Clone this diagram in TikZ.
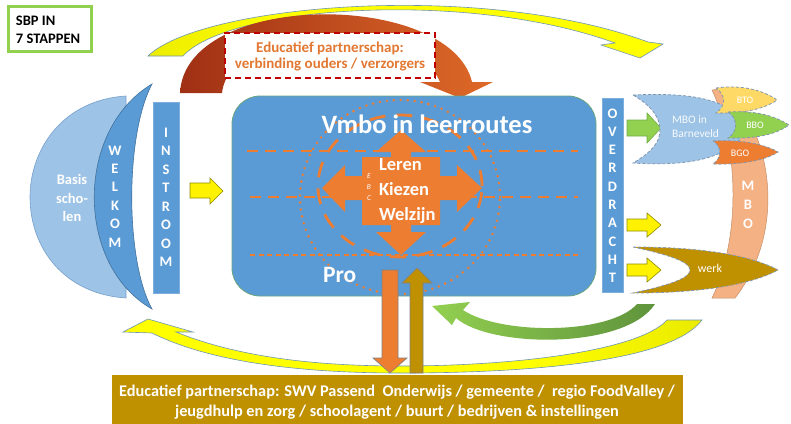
\documentclass[tikz,border=0pt]{standalone}
\usepackage{fontspec}
\setmainfont{Carlito}
\definecolor{obl}{RGB}{91,155,213}
\definecolor{outl}{RGB}{65,113,156}
\definecolor{lbl}{RGB}{157,195,230}
\definecolor{lblo}{RGB}{120,160,205}
\definecolor{oor}{RGB}{237,125,49}
\definecolor{ogold}{RGB}{191,144,0}
\definecolor{ogreen}{RGB}{112,173,71}
\definecolor{lgreen}{RGB}{146,208,80}
\definecolor{tgreen}{RGB}{146,208,80}
\definecolor{salmon}{RGB}{244,177,131}
\definecolor{lyel}{RGB}{255,217,102}
\definecolor{brownr}{RGB}{160,48,20}
\definecolor{brownl}{RGB}{222,105,40}
\definecolor{olv}{RGB}{200,200,0}
\definecolor{dred}{RGB}{192,0,0}
\definecolor{edgeb}{RGB}{110,150,180}
\definecolor{dgray}{RGB}{132,151,176}
\definecolor{etxtc}{RGB}{226,120,50}
\pgfdeclarehorizontalshading{oliveyellow}{100bp}{color(0bp)=(olv); color(38bp)=(yellow); color(100bp)=(yellow)}
\pgfdeclarehorizontalshading{yellowolive}{100bp}{color(0bp)=(yellow); color(60bp)=(yellow); color(100bp)=(olv)}
\tikzset{
  ttl/.style={font=\bfseries\fontsize{14.5}{17}\selectfont, text=black},
  vl/.style={font=\bfseries\fontsize{14.5}{17}\selectfont, text=white, anchor=base},
  etxt/.style={font=\bfseries\fontsize{15}{18}\selectfont, text=etxtc, anchor=base},
  wtxt/.style={font=\bfseries, text=white},
  ybox/.style={fill=yellow, draw=olv!70!black, line width=0.6pt},
  gbox/.style={fill=lgreen, draw=ogreen, line width=0.6pt},
  mshape/.style={draw=dgray, line width=0.8pt, dash pattern=on 3pt off 2pt},
  olines/.style={draw=oor, line width=2.5pt},
}
\begin{document}
\begin{tikzpicture}[x=1pt,y=-1pt, every node/.style={inner sep=0pt, outer sep=0pt}]
\useasboundingbox (0,0) rectangle (791,423);
\fill[white] (0,0) rectangle (791,423);

% title
\draw[tgreen, line width=3pt] (8,6) rectangle (91,51);
\node[ttl, anchor=base west] (t1) at (16,25) {SBP IN};
\node[ttl, anchor=base west] (t2) at (16,43) {7 STAPPEN};

% top yellow arrow
\path[draw=edgeb, line width=0.6pt, shade, shading=oliveyellow]
 (148,56) .. controls (200,5) and (480,-20) .. (648,42) -- (663,44) -- (640,58) -- (601,45) -- (615,43)
 .. controls (470,-10) and (230,5) .. (183,56) -- cycle;

% brown arc arrow
\path[left color=brownr, right color=brownl]
 (180,93) .. controls (185,-10) and (450,-10) .. (472,82) -- (493,82) -- (460,98) -- (420,82) -- (440,82)
 .. controls (415,20) and (230,20) .. (222,93) -- cycle;

% dashed box
\node[draw=dred, fill=white, line width=1.8pt, dash pattern=on 6pt off 4pt,
      minimum width=210pt, minimum height=45pt] (ebox) at (330,55.5) {};
\node[etxt] (e1) at (330,52) {Educatief partnerschap:};
\node[etxt] (e2) at (330,68) {verbinding ouders / verzorgers};

% Basisscholen
\path[fill=lbl, draw=lblo, line width=0.6pt]
 (126,96) .. controls (62,100) and (30,150) .. (30,197) .. controls (30,248) and (64,294) .. (126,298) -- cycle;
\node[wtxt, font=\bfseries\fontsize{14.5}{17}\selectfont, anchor=base] (b1) at (72,184) {Basis};
\node[wtxt, font=\bfseries\fontsize{14.5}{17}\selectfont, anchor=base] (b2) at (72,203) {scho-};
\node[wtxt, font=\bfseries\fontsize{14.5}{17}\selectfont, anchor=base] (b3) at (72,221) {len};

% WELKOM crescent
\path[fill=obl, draw=outl, line width=0.6pt]
 (152,84) .. controls (75,130) and (75,265) .. (152,309) .. controls (125,260) and (125,135) .. (152,84) -- cycle;
\foreach \l [count=\i] in {W,E,L,K,O,M}
  \node[vl] (wk\i) at (115,{155+(\i-1)*18.4}) {\l};

% INSTROOM
\path[fill=obl, draw=obl!80!white, line width=0.6pt] (153,102) rectangle (179,293);
\foreach \l [count=\i] in {I,N,S,T,R,O,O,M}
  \node[vl] (in\i) at (166,{137+(\i-1)*18.57}) {\l};
\path[ybox] (190,183) -- (210,183) -- (210,178) -- (223,191) -- (210,204) -- (210,198) -- (190,198) -- cycle;

% main rectangle
\path[fill=obl, draw=ogreen!60!obl, line width=0.8pt, rounded corners=28pt] (232,96) rectangle (596,296);
\draw[olines, dash pattern=on 11pt off 7pt] (247,151) -- (578,151);
\draw[olines, dash pattern=on 11pt off 7pt] (250,197) -- (578,197);
\draw[olines, line width=2.2pt, dash pattern=on 5pt off 3.5pt] (250,255) -- (580,255);
\draw[olines, line width=2.8pt, line cap=round, dash pattern=on 0pt off 7pt] (400,197) ellipse [x radius=100pt, y radius=97pt];
\draw[olines, line width=2.8pt, dash pattern=on 16pt off 11pt] (400,186) ellipse [x radius=82pt, y radius=71pt];

% quad arrow
\path[fill=oor]
 (401,130) -- (426,152) -- (411,152) -- (411,157) -- (440,157) -- (440,176) -- (457,176) -- (457,165)
 -- (482,188) -- (457,212) -- (457,200) -- (440,200) -- (440,225) -- (411,225) -- (411,232) -- (426,232)
 -- (401,255) -- (376,232) -- (391,232) -- (391,225) -- (362,225) -- (362,200) -- (345,200) -- (345,212)
 -- (322,188) -- (345,165) -- (345,176) -- (362,176) -- (362,157) -- (391,157) -- (391,152) -- (376,152) -- cycle;

\node[wtxt, font=\bfseries\fontsize{26.5}{30}\selectfont, anchor=base] (vmbo) at (427,133) {Vmbo in leerroutes};
\node[wtxt, font=\bfseries\fontsize{18.5}{22}\selectfont, anchor=base west] (le) at (379,170) {Leren};
\node[wtxt, font=\bfseries\fontsize{18.5}{22}\selectfont, anchor=base west] (ki) at (379,195) {Kiezen};
\node[wtxt, font=\bfseries\fontsize{18.5}{22}\selectfont, anchor=base west] (we) at (379,220) {Welzijn};
\node[text=white, font=\itshape\fontsize{7.5}{9}\selectfont, anchor=base] (eE) at (369,178) {E};
\node[text=white, font=\itshape\fontsize{7.5}{9}\selectfont, anchor=base] (eB) at (369,189) {B};
\node[text=white, font=\itshape\fontsize{7.5}{9}\selectfont, anchor=base] (eC) at (369,200) {C};
\node[wtxt, font=\bfseries\fontsize{23.5}{28}\selectfont, anchor=base west] (pro) at (323,282) {Pro};

% bottom yellow arrow
\path[draw=edgeb, line width=0.6pt, shade, shading=yellowolive]
 (123,332) -- (148,319) -- (193,332) -- (176,332)
 .. controls (240,358) and (320,366) .. (400,366) .. controls (520,366) and (640,350) .. (667,320)
 -- (702,320) .. controls (672,360) and (540,373) .. (400,373) .. controls (300,373) and (210,362) .. (152,333) -- cycle;

% green curved arrow
\path[left color=lgreen, right color=ogreen!85!black]
 (432,306) -- (470,302) -- (463,310) .. controls (500,335) and (610,335) .. (637,304) -- (655,304)
 .. controls (625,350) and (490,348) .. (456,318) -- (452,325) -- cycle;

% vertical arrows
\path[fill=oor, draw=gray, line width=0.6pt]
 (382,270) -- (398,270) -- (398,358) -- (407,358) -- (390,373) -- (373,358) -- (382,358) -- cycle;
\path[fill=ogold, draw=gray, line width=0.6pt]
 (410,373) -- (410,283) -- (402,283) -- (417,268) -- (432,283) -- (423,283) -- (423,373) -- cycle;

% bottom box
\path[fill=ogold] (112,375) rectangle (683,424);
\node[wtxt, font=\bfseries\fontsize{16.3}{19}\selectfont, anchor=base] (p1) at (397,396)
  {Educatief partnerschap: SWV Passend\ \ Onderwijs / gemeente /\ \ regio FoodValley /};
\node[wtxt, font=\bfseries\fontsize{16.3}{19}\selectfont, anchor=base] (p2) at (397,416)
  {jeugdhulp en zorg / schoolagent / buurt / bedrijven \& instellingen};

% OVERDRACHT
\path[fill=obl, draw=obl!80!white, line width=0.6pt] (602,98) rectangle (623,292);
\foreach \l [count=\i] in {O,V,E,R,D,R,A,C,H,T}
  \node[vl] (ov\i) at (612.5,{118+(\i-1)*18.33}) {\l};
\path[gbox] (627,120) -- (647,120) -- (647,113) -- (661,128) -- (647,143) -- (647,136) -- (627,136) -- cycle;
\path[ybox] (627,219) -- (647,219) -- (647,213) -- (661,225) -- (647,237) -- (647,231) -- (627,231) -- cycle;
\path[ybox] (627,264) -- (647,264) -- (647,258) -- (661,270) -- (647,282) -- (647,276) -- (627,276) -- cycle;

% MBO band
\path[fill=salmon, draw=salmon!80!black, line width=0.5pt]
 (728,88) .. controls (780,150) and (780,240) .. (735,298) -- (712,298) .. controls (740,240) and (740,150) .. (712,90) -- cycle;
\foreach \l [count=\i] in {M,B,O}
  \node[vl] (mb\i) at (748,{190+(\i-1)*19}) {\l};

% MBO in Barneveld
\path[mshape, fill=lbl]
 (633,95) .. controls (680,93) and (730,95) .. (748,128) .. controls (730,162) and (680,166) .. (633,163)
 .. controls (652,152) and (660,142) .. (660,130) .. controls (660,118) and (652,106) .. (633,95) -- cycle;
\node[text=white!92!lbl, font=\fontsize{11.5}{13}\selectfont, anchor=base west] (mbo1) at (672,123) {MBO in};
\node[text=white!92!lbl, font=\fontsize{11.5}{13}\selectfont, anchor=base west] (mbo2) at (672,137) {Barneveld};

% BTO, BBO, BGO
\path[mshape, fill=lyel]
 (716,88) .. controls (745,84) and (766,92) .. (777,100) .. controls (766,108) and (745,114) .. (716,113)
 .. controls (726,106) and (726,95) .. (716,88) -- cycle;
\node[text=white, font=\fontsize{10}{12}\selectfont] (bto) at (745,100) {BTO};
\path[mshape, fill=lgreen]
 (728,112) .. controls (760,110) and (778,118) .. (789,125) .. controls (778,133) and (760,139) .. (728,138)
 .. controls (738,132) and (738,118) .. (728,112) -- cycle;
\node[text=white, font=\fontsize{10}{12}\selectfont] (bbo) at (755,125) {BBO};
\path[mshape, fill=oor]
 (713,141) .. controls (745,139) and (768,146) .. (778,152) .. controls (768,159) and (745,165) .. (713,164)
 .. controls (722,158) and (722,146) .. (713,141) -- cycle;
\node[text=white, font=\fontsize{10}{12}\selectfont] (bgo) at (740,153) {BGO};

% werk
\path[mshape, fill=ogold]
 (633,247) .. controls (700,247) and (750,255) .. (778,270) .. controls (750,285) and (700,293) .. (633,293)
 .. controls (670,285) and (690,278) .. (690,270) .. controls (690,262) and (670,255) .. (633,247) -- cycle;
\node[text=white, font=\fontsize{12}{14}\selectfont] (werk) at (710,268) {werk};
\end{tikzpicture}
\end{document}
